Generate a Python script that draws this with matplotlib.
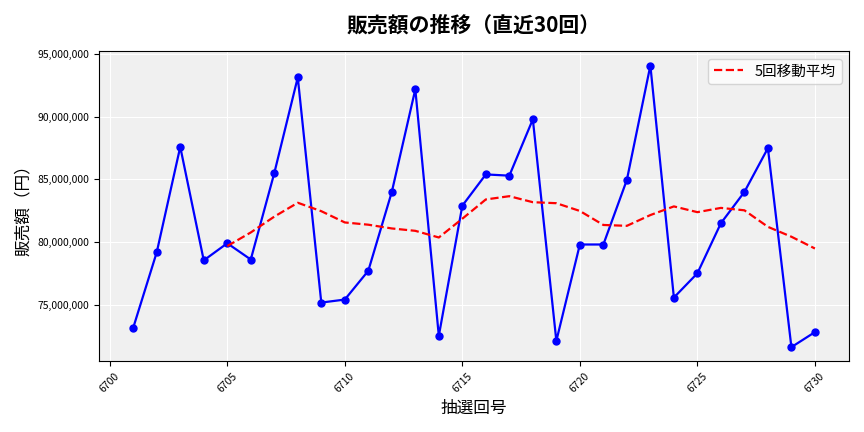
import matplotlib
matplotlib.use("Agg")
import matplotlib.pyplot as plt
import numpy as np
import pandas as pd

plt.rcParams['font.family'] = ['Noto Sans CJK JP', 'DejaVu Sans']

draws = list(range(6701, 6731))
sales_m = [73.15, 79.18, 87.6, 78.53, 79.9, 78.6, 85.5, 93.15, 75.16, 75.4,
           77.7, 84.0, 92.2, 72.5, 82.9, 85.4, 85.3, 89.8, 72.1, 79.8,
           79.8, 84.96, 94.1, 75.56, 77.5, 81.5, 84.0, 87.5, 71.6, 72.8]
sales = pd.Series(np.array(sales_m) * 1e6, index=draws)
ma = sales.rolling(5).mean()

fig, ax = plt.subplots(figsize=(8.64, 4.32), dpi=100)
ax.set_facecolor('#f0f0f0')
ax.grid(True, color='white', linewidth=0.8)
ax.set_axisbelow(True)
ax.plot(draws, sales.values, color='blue', marker='o', markersize=5, linewidth=1.6)
ax.plot(draws, ma.values, color='red', linestyle='--', linewidth=1.6, label='5回移動平均')
ax.set_title('販売額の推移（直近30回）', fontsize=15, fontweight='bold', pad=14)
ax.set_xlabel('抽選回号', fontsize=12)
ax.set_ylabel('販売額（円）', fontsize=12)
ax.yaxis.set_major_formatter(matplotlib.ticker.FuncFormatter(lambda v, p: f'{v:,.0f}'))
ax.set_xticks(range(6700, 6731, 5))
ax.tick_params(axis='x', labelrotation=45, labelsize=7.5)
ax.tick_params(axis='y', labelsize=7.5)
ax.legend(loc='upper right', fontsize=10.5)
fig.tight_layout()
fig.savefig('out.png')
